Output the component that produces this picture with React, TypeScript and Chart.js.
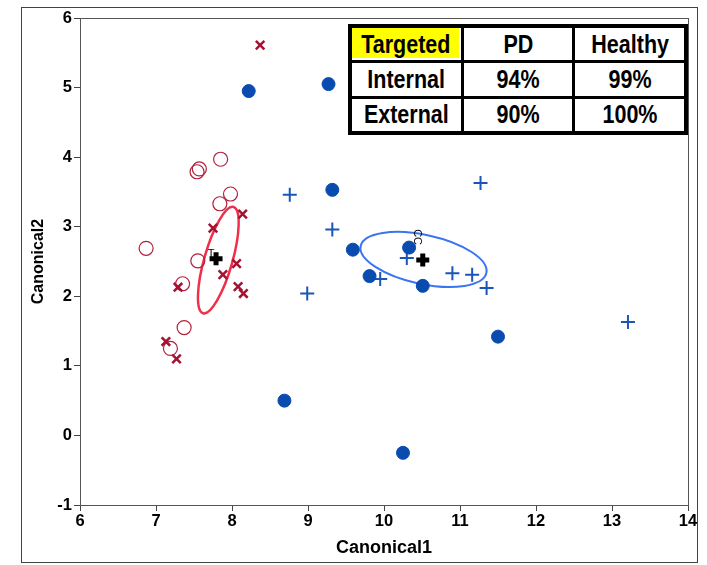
import React, { useEffect, useRef } from "react";
import { Chart, registerables } from "chart.js";
Chart.register(...registerables);

// ---- data ----
const pdInternalX = [6.87, 7.85, 7.57, 7.54, 7.98, 7.84, 7.55, 7.35, 7.37, 7.19];
const pdInternalY = [2.69, 3.97, 3.83, 3.79, 3.47, 3.33, 2.51, 2.18, 1.55, 1.25];
const pdExternalX = [8.37, 8.14, 7.75, 8.06, 7.88, 7.29, 8.08, 8.15, 7.13, 7.27];
const pdExternalY = [5.61, 3.18, 2.98, 2.47, 2.31, 2.13, 2.14, 2.04, 1.35, 1.10];
const hcInternalX = [8.22, 9.27, 9.32, 9.59, 10.33, 9.81, 10.51, 11.50, 8.69, 10.25];
const hcInternalY = [4.95, 5.05, 3.53, 2.67, 2.70, 2.29, 2.15, 1.42, 0.50, -0.25];
const hcExternalX = [8.76, 9.32, 8.99, 10.30, 9.95, 10.90, 11.16, 11.35, 11.27, 13.21];
const hcExternalY = [3.46, 2.96, 2.04, 2.55, 2.25, 2.33, 2.31, 2.12, 3.63, 1.63];
const centroidX = [7.79, 10.51];
const centroidY = [2.54, 2.52];
const centroidLabels = ["T", "CC"];

// confidence ellipses: center and two conjugate half-axes (data units)
const pdEllipse = { cx: 7.82, cy: 2.52, ax: 0.2, ay: 0.764, bx: 0.178, by: -0.055 };
const hcEllipse = { cx: 10.52, cy: 2.53, ax: 0.827, ay: -0.194, bx: -0.068, by: -0.345 };

const xTicks = [6, 7, 8, 9, 10, 11, 12, 13, 14];
const yTicks = [-1, 0, 1, 2, 3, 4, 5, 6];

const tableHeader = ["Targeted", "PD", "Healthy"];
const tableRows = [
  ["Internal", "94%", "99%"],
  ["External", "90%", "100%"],
];

const FONT = "'Liberation Sans', Arial, sans-serif";

const zip = (xs: number[], ys: number[]) => xs.map((x, i) => ({ x, y: ys[i] }));

const decoPlugin = {
  id: "deco",
  beforeDraw(chart: any) {
    const ctx = chart.ctx;
    ctx.save();
    ctx.strokeStyle = "#444";
    ctx.lineWidth = 1;
    ctx.strokeRect(21.5, 7.5, 676, 555);
    ctx.restore();
  },
  beforeDatasetsDraw(chart: any) {
    const { ctx, chartArea: a, scales } = chart;
    const xs = scales.x, ys = scales.y;
    ctx.save();
    ctx.strokeStyle = "#555";
    ctx.lineWidth = 1;
    ctx.strokeRect(a.left + 0.5, a.top + 0.5, a.right - a.left, a.bottom - a.top);
    const drawEll = (e: any, color: string, w: number) => {
      const cx = xs.getPixelForValue(e.cx), cy = ys.getPixelForValue(e.cy);
      const ax = xs.getPixelForValue(e.cx + e.ax) - cx, ay = ys.getPixelForValue(e.cy + e.ay) - cy;
      const bx = xs.getPixelForValue(e.cx + e.bx) - cx, by = ys.getPixelForValue(e.cy + e.by) - cy;
      ctx.save();
      ctx.beginPath();
      ctx.transform(ax, ay, bx, by, cx, cy);
      ctx.arc(0, 0, 1, 0, Math.PI * 2);
      ctx.restore();
      ctx.strokeStyle = color;
      ctx.lineWidth = w;
      ctx.stroke();
    };
    drawEll(pdEllipse, "#f0304a", 2.5);
    drawEll(hcEllipse, "#3a74f0", 2);
    // centroid labels
    ctx.fillStyle = "#000";
    ctx.font = `11px ${FONT}`;
    ctx.textAlign = "center";
    ctx.textBaseline = "middle";
    {
      const px = xs.getPixelForValue(centroidX[0]) - 5;
      const py = ys.getPixelForValue(centroidY[0]) - 5;
      ctx.fillText(centroidLabels[0], px, py);
    }
    {
      const px = xs.getPixelForValue(centroidX[1]) - 6;
      const py = ys.getPixelForValue(centroidY[1]) - 23;
      ctx.save();
      ctx.translate(px, py);
      ctx.rotate(Math.PI / 2);
      ctx.fillText(centroidLabels[1], 0, 0);
      ctx.restore();
    }
    ctx.restore();
  },
};

export default function App() {
  const ref = useRef<HTMLCanvasElement>(null);
  useEffect(() => {
    const chart = new Chart(ref.current!, {
      type: "scatter",
      data: {
        datasets: [
          {
            label: "Centroid",
            data: zip(centroidX, centroidY),
            pointStyle: "cross",
            radius: 6.5,
            borderWidth: 5,
            borderColor: "#000",
            backgroundColor: "#000",
          },
          {
            label: "HC internal",
            data: zip(hcInternalX, hcInternalY),
            pointStyle: "circle",
            radius: 6.5,
            borderWidth: 1,
            borderColor: "#0a4bb0",
            backgroundColor: "#0a4bb0",
          },
          {
            label: "HC external",
            data: zip(hcExternalX, hcExternalY),
            pointStyle: "cross",
            radius: 7,
            borderWidth: 2,
            borderColor: "#1a55b8",
            backgroundColor: "#1a55b8",
          },
          {
            label: "PD external",
            data: zip(pdExternalX, pdExternalY),
            pointStyle: "crossRot",
            radius: 6,
            borderWidth: 2.5,
            borderColor: "#a51232",
            backgroundColor: "#a51232",
          },
          {
            label: "PD internal",
            data: zip(pdInternalX, pdInternalY),
            pointStyle: "circle",
            radius: 7,
            borderWidth: 1.2,
            borderColor: "#b3203c",
            backgroundColor: "rgba(0,0,0,0)",
          },
        ],
      },
      options: {
        animation: false,
        responsive: false,
        maintainAspectRatio: false,
        layout: { padding: { left: 0, top: 18, right: 19, bottom: 0 } },
        plugins: { legend: { display: false }, tooltip: { enabled: false } },
        scales: {
          x: {
            type: "linear",
            min: 6,
            max: 14,
            afterBuildTicks: (s: any) => { s.ticks = xTicks.map((v) => ({ value: v })); },
            afterFit: (s: any) => { s.height = 60; },
            grid: { drawOnChartArea: false, drawTicks: true, tickLength: 6, color: "#444" },
            border: { color: "#555" },
            ticks: { color: "#000", font: { family: FONT, size: 16.5, weight: "bold" }, padding: 1, maxRotation: 0 },
            title: { display: true, text: "Canonical1", color: "#000", font: { family: FONT, size: 18, weight: "bold" }, padding: { top: 0, bottom: 6 } },
          },
          y: {
            type: "linear",
            min: -1,
            max: 6,
            afterBuildTicks: (s: any) => { s.ticks = yTicks.map((v) => ({ value: v })); },
            afterFit: (s: any) => { s.width = 80; },
            grid: { drawOnChartArea: false, drawTicks: true, tickLength: 6, color: "#444" },
            border: { color: "#555" },
            ticks: { color: "#000", font: { family: FONT, size: 16.5, weight: "bold" }, padding: 2 },
            title: { display: true, text: "Canonical2", color: "#000", font: { family: FONT, size: 16, weight: "bold" }, padding: { top: 29, bottom: 0 } },
          },
        },
      },
      plugins: [decoPlugin],
    } as any);
    return () => chart.destroy();
  }, []);

  const cellBase: React.CSSProperties = {
    background: "#fff",
    display: "flex",
    alignItems: "center",
    justifyContent: "center",
    fontFamily: FONT,
    fontWeight: "bold",
    fontSize: 25,
    color: "#000",
    overflow: "hidden",
    whiteSpace: "nowrap",
  };
  const txt = (s: string) => (
    <span style={{ display: "inline-block", transform: "scaleX(0.86)" }}>{s}</span>
  );

  return (
    <div style={{ position: "fixed", left: 0, top: 0, width: 707, height: 565, background: "#fff" }}>
      <canvas ref={ref} width={707} height={565} style={{ display: "block" }} />
      <div
        style={{
          position: "absolute",
          left: 348,
          top: 24,
          width: 340,
          height: 111,
          boxSizing: "border-box",
          background: "#000",
          padding: 4,
          display: "grid",
          gridTemplateColumns: "1fr 1fr 1fr",
          gridTemplateRows: "1fr 1fr 1fr",
          gap: 3,
        }}
      >
        {tableHeader.map((h, i) => (
          <div key={"h" + i} style={{ ...cellBase, background: i === 0 ? "#ffff00" : "#fff", boxShadow: i === 0 ? "inset -2px -2px 0 #fff" : undefined }}>
            {txt(h)}
          </div>
        ))}
        {tableRows.map((r, ri) =>
          r.map((c, ci) => (
            <div key={ri + "-" + ci} style={cellBase}>
              {txt(c)}
            </div>
          ))
        )}
      </div>
    </div>
  );
}
